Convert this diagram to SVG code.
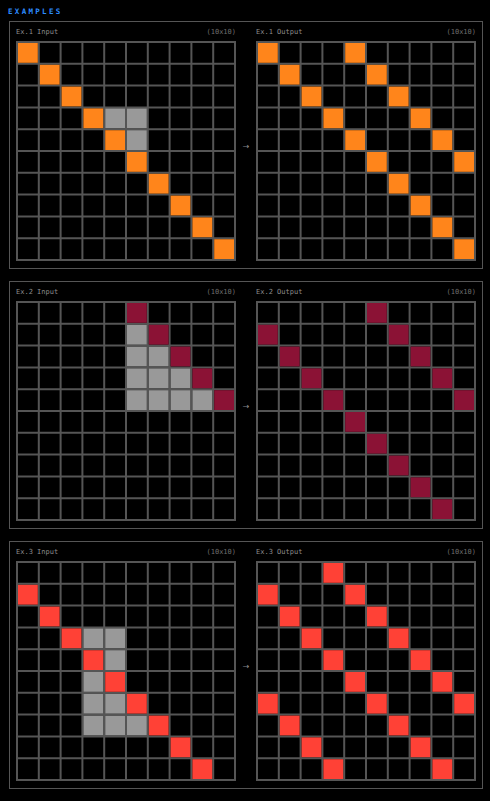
<svg xmlns="http://www.w3.org/2000/svg" xmlns:xlink="http://www.w3.org/1999/xlink" width="490" height="801" viewBox="0 0 490 801">
<style>
.bg{fill:#000}
.panel{fill:#000;stroke:#555;stroke-width:1}
.title{font-family:"DejaVu Sans Mono","Liberation Mono",monospace;font-size:7.5px;font-weight:bold;letter-spacing:2.3px;fill:#2d8cff}
.hd{font-family:"DejaVu Sans Mono","Liberation Mono",monospace;font-size:7px;fill:#8c8c8c}
.dim{font-family:"DejaVu Sans Mono","Liberation Mono",monospace;font-size:7px;fill:#6e6e6e}
.arr{font-family:"DejaVu Sans","Liberation Sans",sans-serif;font-size:8px;fill:#8c8c8c}
.o{fill:#ff851b}
.g{fill:#999}
.m{fill:#8b1235}
.r{fill:#ff4136}
</style>
<defs>
<g id="grid">
<rect x="1" y="1" width="218" height="218" fill="#000" stroke="#555" stroke-width="2"/>
<path d="M22.8 0V220M44.6 0V220M66.4 0V220M88.2 0V220M110 0V220M131.8 0V220M153.6 0V220M175.4 0V220M197.2 0V220M0 22.8H220M0 44.6H220M0 66.4H220M0 88.2H220M0 110H220M0 131.8H220M0 153.6H220M0 175.4H220M0 197.2H220" stroke="#555" stroke-width="2" fill="none"/>
</g>
</defs>
<rect class="bg" x="0" y="0" width="490" height="801"/>
<text class="title" x="8" y="14.3">EXAMPLES</text>

<g id="ex1">
<rect class="panel" x="9.5" y="21.5" width="473" height="247"/>
<text class="hd" x="16" y="34">Ex.1 Input</text>
<text class="dim" x="236" y="34" text-anchor="end">(10x10)</text>
<text class="hd" x="256" y="34">Ex.1 Output</text>
<text class="dim" x="476" y="34" text-anchor="end">(10x10)</text>
<text class="arr" x="246" y="149" text-anchor="middle">→</text>
<g id="ex1-in" transform="translate(16,41)">
<use xlink:href="#grid" href="#grid"/>
<g class="o">
<rect x="2" y="2" width="19.8" height="19.8"/>
<rect x="23.8" y="23.8" width="19.8" height="19.8"/>
<rect x="45.6" y="45.6" width="19.8" height="19.8"/>
<rect x="67.4" y="67.4" width="19.8" height="19.8"/>
<rect x="89.2" y="89.2" width="19.8" height="19.8"/>
<rect x="111" y="111" width="19.8" height="19.8"/>
<rect x="132.8" y="132.8" width="19.8" height="19.8"/>
<rect x="154.6" y="154.6" width="19.8" height="19.8"/>
<rect x="176.4" y="176.4" width="19.8" height="19.8"/>
<rect x="198.2" y="198.2" width="19.8" height="19.8"/>
</g>
<g class="g">
<rect x="89.2" y="67.4" width="19.8" height="19.8"/>
<rect x="111" y="67.4" width="19.8" height="19.8"/>
<rect x="111" y="89.2" width="19.8" height="19.8"/>
</g>
</g>
<g id="ex1-out" transform="translate(256,41)">
<use xlink:href="#grid" href="#grid"/>
<g class="o">
<rect x="2" y="2" width="19.8" height="19.8"/>
<rect x="23.8" y="23.8" width="19.8" height="19.8"/>
<rect x="45.6" y="45.6" width="19.8" height="19.8"/>
<rect x="67.4" y="67.4" width="19.8" height="19.8"/>
<rect x="89.2" y="89.2" width="19.8" height="19.8"/>
<rect x="111" y="111" width="19.8" height="19.8"/>
<rect x="132.8" y="132.8" width="19.8" height="19.8"/>
<rect x="154.6" y="154.6" width="19.8" height="19.8"/>
<rect x="176.4" y="176.4" width="19.8" height="19.8"/>
<rect x="198.2" y="198.2" width="19.8" height="19.8"/>
<rect x="89.2" y="2" width="19.8" height="19.8"/>
<rect x="111" y="23.8" width="19.8" height="19.8"/>
<rect x="132.8" y="45.6" width="19.8" height="19.8"/>
<rect x="154.6" y="67.4" width="19.8" height="19.8"/>
<rect x="176.4" y="89.2" width="19.8" height="19.8"/>
<rect x="198.2" y="111" width="19.8" height="19.8"/>
</g>
</g>
</g>

<g id="ex2">
<rect class="panel" x="9.5" y="281.5" width="473" height="247"/>
<text class="hd" x="16" y="294">Ex.2 Input</text>
<text class="dim" x="236" y="294" text-anchor="end">(10x10)</text>
<text class="hd" x="256" y="294">Ex.2 Output</text>
<text class="dim" x="476" y="294" text-anchor="end">(10x10)</text>
<text class="arr" x="246" y="409" text-anchor="middle">→</text>
<g id="ex2-in" transform="translate(16,301)">
<use xlink:href="#grid" href="#grid"/>
<g class="m">
<rect x="111" y="2" width="19.8" height="19.8"/>
<rect x="132.8" y="23.8" width="19.8" height="19.8"/>
<rect x="154.6" y="45.6" width="19.8" height="19.8"/>
<rect x="176.4" y="67.4" width="19.8" height="19.8"/>
<rect x="198.2" y="89.2" width="19.8" height="19.8"/>
</g>
<g class="g">
<rect x="111" y="23.8" width="19.8" height="19.8"/>
<rect x="111" y="45.6" width="19.8" height="19.8"/>
<rect x="132.8" y="45.6" width="19.8" height="19.8"/>
<rect x="111" y="67.4" width="19.8" height="19.8"/>
<rect x="132.8" y="67.4" width="19.8" height="19.8"/>
<rect x="154.6" y="67.4" width="19.8" height="19.8"/>
<rect x="111" y="89.2" width="19.8" height="19.8"/>
<rect x="132.8" y="89.2" width="19.8" height="19.8"/>
<rect x="154.6" y="89.2" width="19.8" height="19.8"/>
<rect x="176.4" y="89.2" width="19.8" height="19.8"/>
</g>
</g>
<g id="ex2-out" transform="translate(256,301)">
<use xlink:href="#grid" href="#grid"/>
<g class="m">
<rect x="111" y="2" width="19.8" height="19.8"/>
<rect x="132.8" y="23.8" width="19.8" height="19.8"/>
<rect x="154.6" y="45.6" width="19.8" height="19.8"/>
<rect x="176.4" y="67.4" width="19.8" height="19.8"/>
<rect x="198.2" y="89.2" width="19.8" height="19.8"/>
<rect x="2" y="23.8" width="19.8" height="19.8"/>
<rect x="23.8" y="45.6" width="19.8" height="19.8"/>
<rect x="45.6" y="67.4" width="19.8" height="19.8"/>
<rect x="67.4" y="89.2" width="19.8" height="19.8"/>
<rect x="89.2" y="111" width="19.8" height="19.8"/>
<rect x="111" y="132.8" width="19.8" height="19.8"/>
<rect x="132.8" y="154.6" width="19.8" height="19.8"/>
<rect x="154.6" y="176.4" width="19.8" height="19.8"/>
<rect x="176.4" y="198.2" width="19.8" height="19.8"/>
</g>
</g>
</g>

<g id="ex3">
<rect class="panel" x="9.5" y="541.5" width="473" height="247"/>
<text class="hd" x="16" y="554">Ex.3 Input</text>
<text class="dim" x="236" y="554" text-anchor="end">(10x10)</text>
<text class="hd" x="256" y="554">Ex.3 Output</text>
<text class="dim" x="476" y="554" text-anchor="end">(10x10)</text>
<text class="arr" x="246" y="669" text-anchor="middle">→</text>
<g id="ex3-in" transform="translate(16,561)">
<use xlink:href="#grid" href="#grid"/>
<g class="r">
<rect x="2" y="23.8" width="19.8" height="19.8"/>
<rect x="23.8" y="45.6" width="19.8" height="19.8"/>
<rect x="45.6" y="67.4" width="19.8" height="19.8"/>
<rect x="67.4" y="89.2" width="19.8" height="19.8"/>
<rect x="89.2" y="111" width="19.8" height="19.8"/>
<rect x="111" y="132.8" width="19.8" height="19.8"/>
<rect x="132.8" y="154.6" width="19.8" height="19.8"/>
<rect x="154.6" y="176.4" width="19.8" height="19.8"/>
<rect x="176.4" y="198.2" width="19.8" height="19.8"/>
</g>
<g class="g">
<rect x="67.4" y="67.4" width="19.8" height="19.8"/>
<rect x="89.2" y="67.4" width="19.8" height="19.8"/>
<rect x="89.2" y="89.2" width="19.8" height="19.8"/>
<rect x="67.4" y="111" width="19.8" height="19.8"/>
<rect x="67.4" y="132.8" width="19.8" height="19.8"/>
<rect x="89.2" y="132.8" width="19.8" height="19.8"/>
<rect x="67.4" y="154.6" width="19.8" height="19.8"/>
<rect x="89.2" y="154.6" width="19.8" height="19.8"/>
<rect x="111" y="154.6" width="19.8" height="19.8"/>
</g>
</g>
<g id="ex3-out" transform="translate(256,561)">
<use xlink:href="#grid" href="#grid"/>
<g class="r">
<rect x="67.4" y="2" width="19.8" height="19.8"/>
<rect x="89.2" y="23.8" width="19.8" height="19.8"/>
<rect x="111" y="45.6" width="19.8" height="19.8"/>
<rect x="132.8" y="67.4" width="19.8" height="19.8"/>
<rect x="154.6" y="89.2" width="19.8" height="19.8"/>
<rect x="176.4" y="111" width="19.8" height="19.8"/>
<rect x="198.2" y="132.8" width="19.8" height="19.8"/>
<rect x="2" y="23.8" width="19.8" height="19.8"/>
<rect x="23.8" y="45.6" width="19.8" height="19.8"/>
<rect x="45.6" y="67.4" width="19.8" height="19.8"/>
<rect x="67.4" y="89.2" width="19.8" height="19.8"/>
<rect x="89.2" y="111" width="19.8" height="19.8"/>
<rect x="111" y="132.8" width="19.8" height="19.8"/>
<rect x="132.8" y="154.6" width="19.8" height="19.8"/>
<rect x="154.6" y="176.4" width="19.8" height="19.8"/>
<rect x="176.4" y="198.2" width="19.8" height="19.8"/>
<rect x="2" y="132.8" width="19.8" height="19.8"/>
<rect x="23.8" y="154.6" width="19.8" height="19.8"/>
<rect x="45.6" y="176.4" width="19.8" height="19.8"/>
<rect x="67.4" y="198.2" width="19.8" height="19.8"/>
</g>
</g>
</g>
</svg>
